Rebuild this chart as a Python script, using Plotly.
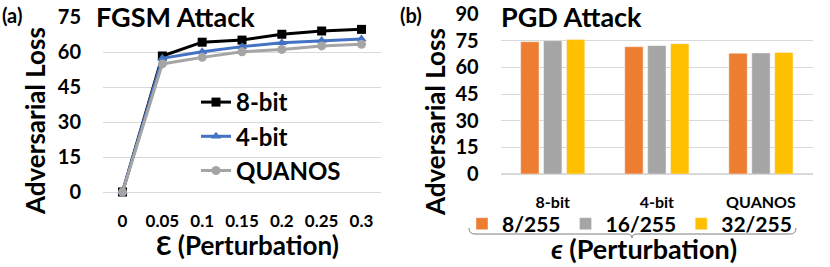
import plotly.graph_objects as go

# ---- data ----
eps_labels = ["0", "0.05", "0.1", "0.15", "0.2", "0.25", "0.3"]
fgsm_8bit = [0, 58.3, 64.2, 65.1, 67.6, 69.0, 69.7]
fgsm_4bit = [0, 57.3, 60.1, 62.3, 64.0, 64.9, 65.6]
fgsm_quanos = [0, 54.9, 57.7, 60.1, 61.1, 62.6, 63.3]

pgd_models = ["8-bit", "4-bit", "QUANOS"]
pgd_8_255 = [74.4, 71.6, 67.9]
pgd_16_255 = [75.0, 72.2, 68.1]
pgd_32_255 = [75.6, 73.3, 68.4]

left_ticks = [0, 15, 30, 45, 60, 75]
right_ticks = [0, 15, 30, 45, 60, 75, 90]

W, H = 830, 267
FONT = "Lato"


def px(x):
    return x / W


def py(y):
    return 1 - y / H


fig = go.Figure()

line_series = [
    ("8-bit", fgsm_8bit, "#000000", "square"),
    ("4-bit", fgsm_4bit, "#4472C4", "triangle-up"),
    ("QUANOS", fgsm_quanos, "#A5A5A5", "circle"),
]
for i, (name, vals, col, sym) in enumerate(line_series):
    fig.add_trace(go.Scatter(
        x=eps_labels, y=vals, name=name, mode="lines+markers",
        line=dict(color=col, width=3),
        marker=dict(symbol=sym, size=9, color=col),
        xaxis="x", yaxis="y", legend="legend", legendgroup=name,
        cliponaxis=False,
    ))

bar_series = [
    ("8/255", pgd_8_255, "#ED7D31"),
    ("16/255", pgd_16_255, "#A5A5A5"),
    ("32/255", pgd_32_255, "#FFC000"),
]
for name, vals, col in bar_series:
    fig.add_trace(go.Bar(
        x=pgd_models, y=vals, name=name,
        marker=dict(color=col, line=dict(color="#F2F2F2", width=0.5)),
        xaxis="x2", yaxis="y2", legend="legend2",
    ))

grid = "#D9D9D9"
tickfont = dict(family=FONT, size=20, color="#000000", weight="bold")

fig.update_layout(
    width=W, height=H,
    margin=dict(l=0, r=0, t=0, b=0, autoexpand=False),
    paper_bgcolor="white", plot_bgcolor="white",
    font=dict(family=FONT, color="#000000"),
    barmode="group", bargap=0.34, bargroupgap=0.2,
    xaxis=dict(domain=[px(103), px(381)], type="category",
               showgrid=False, showline=False, zeroline=False,
               tickfont=dict(family=FONT, size=17, color="#000", weight="bold"),
               ticks="", ticklabelstandoff=17, automargin=False),
    yaxis=dict(domain=[py(192), py(17)], range=[0, 75], tickvals=left_ticks,
               showgrid=True, gridcolor=grid, gridwidth=1,
               zeroline=True, zerolinecolor=grid, zerolinewidth=1,
               showline=False, tickfont=tickfont, ticks="",
               ticklabelstandoff=21, automargin=False),
    xaxis2=dict(domain=[px(500.7), px(813)], type="category",
                showgrid=False, showline=False, zeroline=False,
                tickfont=dict(family=FONT, size=16, color="#000", weight="bold"),
                ticks="", ticklabelstandoff=17, anchor="y2", automargin=False),
    yaxis2=dict(domain=[py(174), py(14)], range=[0, 90], tickvals=right_ticks,
                showgrid=True, gridcolor=grid, gridwidth=1,
                zeroline=True, zerolinecolor=grid, zerolinewidth=2,
                showline=False, tickfont=tickfont, ticks="",
                ticklabelstandoff=21, anchor="x2", automargin=False),
    legend=dict(x=px(196), y=py(80), xanchor="left", yanchor="top",
                bgcolor="rgba(0,0,0,0)", tracegroupgap=0,
                font=dict(family=FONT, size=24, color="#000", weight="bold")),
    legend2=dict(orientation="h", x=px(462), y=py(224), xanchor="left",
                 yanchor="middle", bgcolor="rgba(0,0,0,0)",
                 font=dict(family=FONT, size=21, color="#000", weight="bold")),
    showlegend=True,
)

ann_font = lambda s: dict(family=FONT, size=s, color="#000000", weight="bold")
annotations = [
    dict(text="(a)", x=px(0), y=py(15), xanchor="left", yanchor="middle", font=ann_font(20)),
    dict(text="FGSM Attack", x=px(94), y=py(16), xanchor="left", yanchor="middle", font=ann_font(27)),
    dict(text="(b)", x=px(398), y=py(15), xanchor="left", yanchor="middle", font=ann_font(20)),
    dict(text="PGD Attack", x=px(499), y=py(16), xanchor="left", yanchor="middle", font=ann_font(27)),
    dict(text="Adversarial Loss", x=px(35), y=py(121), textangle=-90, xanchor="center",
         yanchor="middle", font=ann_font(26)),
    dict(text="Adversarial Loss", x=px(435), y=py(122), textangle=-90, xanchor="center",
         yanchor="middle", font=ann_font(26)),
    dict(text="\u0190 (Perturbation)", x=px(247), y=py(245), xanchor="center", yanchor="middle",
         font=ann_font(26)),
    dict(text="<i>\u03f5</i> (Perturbation)", x=px(644), y=py(248), xanchor="center",
         yanchor="middle", font=ann_font(27)),
]
for a in annotations:
    a.update(xref="paper", yref="paper", showarrow=False)
fig.update_layout(annotations=annotations)

# horizontal curly brace under the legend
pts = f"M {px(469)},{py(228)} Q {px(469)},{py(234)} {px(475)},{py(234)} " \
      f"L {px(627)},{py(234)} Q {px(632)},{py(234)} {px(632)},{py(238)} " \
      f"Q {px(632)},{py(234)} {px(637)},{py(234)} L {px(790)},{py(234)} " \
      f"Q {px(796)},{py(234)} {px(796)},{py(228)}"
fig.add_shape(type="path", path=pts, xref="paper", yref="paper",
              line=dict(color="#7F7F7F", width=1))

fig.write_html("out.html", config={"displayModeBar": False},
               post_script="document.body.style.margin='0';document.body.style.overflow='hidden';")
